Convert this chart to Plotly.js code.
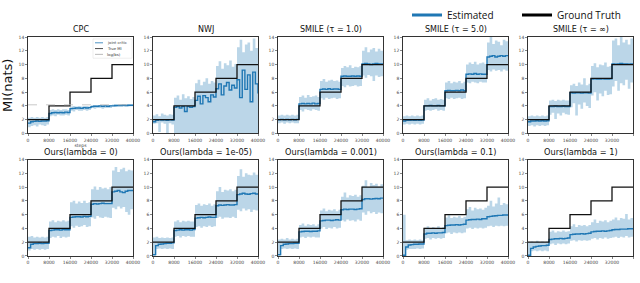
<!DOCTYPE html>
<html>
<head>
<meta charset="utf-8">
<script src="https://cdn.plot.ly/plotly-3.0.1.min.js"></script>
<style>html,body{margin:0;padding:0;background:#fff;}#chart{width:640px;height:283px;}</style>
</head>
<body>
<div id="chart"></div>
<script>
// ---------- data ----------
const steps = [0,1000,2000,3000,4000,5000,6000,7000,8000,9000,10000,11000,12000,13000,14000,15000,16000,17000,18000,19000,20000,21000,22000,23000,24000,25000,26000,27000,28000,29000,30000,31000,32000,33000,34000,35000,36000,37000,38000,39000,40000];
const gtSteps = [0,8000,16000,24000,32000,40000];
const gtMI = [2,4,6,8,10,10];
const logBS = 4.16;
const xTicks = [0,8000,16000,24000,32000,40000];
const yTicks = [0,2,4,6,8,10,12,14];
const titles = ["CPC","NWJ","SMILE (τ = 1.0)","SMILE (τ = 5.0)","SMILE (τ = ∞)",
  "Ours(lambda = 0)","Ours(lambda = 1e-05)","Ours(lambda = 0.001)","Ours(lambda = 0.1)","Ours(lambda = 1)"];

const cpcEst = [1.5,1.7,1.75,1.8,1.75,1.8,1.8,1.85, 2.9,3.0,3.05,3.0,3.05,3.0,3.1,3.05, 3.6,3.65,3.7,3.7,3.65,3.75,3.7,3.75, 3.9,3.95,3.95,4.0,3.95,4.0,3.95,4.0, 4.0,4.05,4.05,4.05,4.1,4.05,4.1,4.1,4.1];
const cpcLo  = [0.9,1.1,1.2,1.0,1.3,1.2,1.1,1.3, 2.5,2.6,2.5,2.7,2.6,2.6,2.7,2.6, 3.3,3.2,3.4,3.3,3.3,3.4,3.3,3.4, 3.7,3.6,3.7,3.7,3.6,3.7,3.7,3.7, 3.9,3.85,3.9,3.9,3.9,3.9,3.9,3.95,3.95];
const cpcHi  = [2.3,2.4,2.3,2.4,2.3,2.4,2.3,2.4, 3.4,3.5,3.4,3.5,3.4,3.5,3.5,3.4, 3.9,4.0,3.9,4.0,3.9,4.0,4.0,3.9, 4.1,4.15,4.1,4.15,4.1,4.15,4.1,4.15, 4.2,4.2,4.2,4.25,4.2,4.2,4.25,4.2,4.2];

const nwjEst = [1.7,1.9,2.0,1.95,2.0,1.9,2.0,1.95, 3.8,3.9,3.7,3.9,3.2,3.9,3.8,3.9, 4.8,5.4,4.3,5.5,5.2,4.6,5.6,5.3, 6.5,7.2,5.6,6.9,7.4,6.3,7.0,6.6, 7.8,5.2,9.2,6.4,8.5,4.6,8.9,7.2,5.8];
const nwjLo  = [1.4,1.5,0.2,1.6,1.4,0.0,1.5,1.3, 0,0,0,0,0,0,0,0, 0,0,0,0,0,0,0,0, 0,0,0,0,0,0,0,0, 0,0,0,0,0,0,0,0,0];
const nwjHi  = [2.6,2.8,2.5,2.9,2.7,2.6,2.8,2.7, 5.2,5.5,4.9,5.7,5.1,5.4,5.0,5.3, 7.3,7.8,7.0,7.5,8.0,7.2,7.6,7.4, 9.8,10.5,9.4,10.2,9.9,10.6,9.7,10.1, 12.5,13.6,11.8,12.9,13.2,12.0,13.8,12.4,12.4];

const smile1Est = [2.0,2.05,2.0,2.05,2.0,2.05,2.0,2.05, 4.3,4.35,4.3,4.35,4.3,4.4,4.3,4.35, 6.4,6.45,6.4,6.5,6.4,6.45,6.45,6.4, 8.3,8.35,8.3,8.3,8.35,8.3,8.35,8.3, 10.1,10.15,10.1,10.0,10.1,10.15,10.1,10.1,10.1];
const smile1Lo  = [1.5,1.6,1.4,1.6,1.5,1.6,1.5,1.5, 3.4,3.2,3.5,3.4,3.3,3.5,3.4,3.3, 5.1,4.9,5.2,5.0,5.1,5.2,5.0,5.1, 6.9,6.7,7.0,6.8,6.9,7.0,6.8,6.9, 8.4,8.1,8.5,8.3,7.6,8.4,8.2,8.3,8.3];
const smile1Hi  = [2.6,2.7,2.6,2.7,2.6,2.7,2.6,2.7, 5.3,5.5,5.2,5.6,5.3,5.4,5.5,5.3, 7.6,7.9,7.5,7.7,7.8,7.6,7.7,7.5, 9.5,9.8,9.6,9.9,9.5,9.7,9.6,9.8, 12.0,12.5,11.8,12.2,12.4,11.9,12.3,12.0,12.0];

const smile5Est = [1.8,1.9,1.9,1.95,1.9,1.95,1.9,1.95, 4.0,4.0,4.05,4.0,4.0,4.05,4.0,4.0, 6.2,6.25,6.2,6.2,6.25,6.2,6.3,6.2, 8.6,8.65,8.6,8.7,8.6,8.65,8.6,8.6, 11.1,11.2,11.3,11.1,11.2,11.3,11.2,11.3,11.3];
const smile5Lo  = [1.3,1.4,1.3,1.4,1.3,1.4,1.3,1.4, 3.3,3.4,3.3,3.4,3.5,3.3,3.4,3.3, 5.1,5.0,5.2,5.0,5.1,5.2,5.0,5.1, 7.4,7.3,7.5,7.4,7.3,7.5,7.4,7.4, 9.2,9.0,9.3,9.1,9.2,9.0,9.3,9.1,9.1];
const smile5Hi  = [2.5,2.6,2.5,2.6,2.5,2.6,2.5,2.6, 4.9,5.1,4.8,5.0,5.1,4.9,5.0,4.9, 7.4,7.6,7.3,7.5,7.4,7.6,7.3,7.5, 10.0,10.3,10.1,10.4,10.0,10.2,10.3,10.1, 13.2,14.0,13.0,13.5,13.3,12.8,13.6,13.4,13.4];

const smileInfEst = [1.7,1.8,1.8,1.85,1.8,1.85,1.8,1.85, 3.9,3.9,3.95,3.9,3.9,3.95,3.9,3.9, 5.9,5.85,5.9,5.9,5.85,5.9,5.9,5.85, 7.9,7.95,7.9,7.9,7.95,7.9,7.9,7.95, 10.1,10.05,10.1,10.15,10.1,10.1,10.05,10.1,10.1];
const smileInfLo  = [1.1,1.2,1.0,1.2,1.1,1.2,1.1,1.2, 2.7,3.0,2.1,2.9,2.6,3.0,2.8,2.7, 3.8,4.4,2.6,4.2,3.6,4.5,4.0,3.7, 5.5,6.0,4.8,5.8,5.4,6.2,5.6,5.7, 6.8,7.6,6.2,7.3,7.0,7.8,6.5,7.4,7.4];
const smileInfHi  = [2.5,2.6,2.5,2.6,2.5,2.6,2.5,2.6, 4.8,4.9,4.7,4.9,4.8,4.9,4.8,4.8, 7.0,7.2,6.9,7.4,7.1,8.0,7.0,7.2, 9.8,10.2,9.6,10.0,9.9,10.3,9.7,9.8, 13.5,13.8,12.8,14.0,13.2,13.6,12.9,13.8,13.8];

const ours0Est = [1.2,1.7,1.8,1.8,1.85,1.8,1.85,1.85, 3.7,3.75,3.8,3.8,3.75,3.85,3.8,3.8, 5.6,5.65,5.7,5.7,5.65,5.75,5.7,5.75, 7.5,7.6,7.55,7.6,7.65,7.6,7.6,7.6, 9.3,9.4,9.5,9.3,9.2,9.4,9.5,9.5,9.5];
const ours0Lo  = [0.8,1.0,0.9,1.0,0.9,1.0,0.9,1.0, 2.6,2.8,2.7,2.9,2.6,2.8,2.7,2.8, 4.3,4.1,4.4,4.2,4.3,4.5,4.2,4.3, 5.6,5.4,5.8,5.6,5.5,5.7,5.6,5.5, 7.0,6.8,7.2,6.9,7.1,6.4,6.0,6.8,6.8];
const ours0Hi  = [2.8,2.9,2.7,2.8,2.7,2.8,2.7,2.8, 5.0,5.2,4.9,5.1,5.0,5.2,5.0,5.1, 7.8,8.0,7.6,7.9,7.7,8.0,7.7,7.8, 9.7,10.1,9.6,10.0,9.8,9.9,9.7,10.0, 12.4,12.9,12.2,12.6,12.8,12.3,12.5,12.4,12.4];

const ours1e5Est = [0.2,1.5,1.7,1.75,1.8,1.85,1.85,1.9, 3.7,3.75,3.8,3.75,3.8,3.8,3.75,3.85, 5.5,5.55,5.6,5.55,5.6,5.65,5.6,5.6, 7.3,7.4,7.35,7.4,7.45,7.4,7.4,7.45, 8.9,9.0,9.1,9.0,8.95,9.05,9.1,9.0,9.0];
const ours1e5Lo  = [0.0,1.0,1.1,1.0,1.1,1.0,1.1,1.0, 2.8,2.9,2.7,2.9,2.8,2.9,2.8,2.8, 4.2,4.3,4.1,4.3,4.2,4.4,4.2,4.3, 5.5,5.7,5.4,5.6,5.6,5.5,5.7,5.5, 6.7,6.5,6.9,6.6,6.8,6.4,6.7,6.6,6.6];
const ours1e5Hi  = [2.7,2.8,2.6,2.7,2.6,2.7,2.6,2.7, 5.0,5.2,4.9,5.1,5.0,5.1,5.0,5.0, 7.4,7.6,7.3,7.5,7.4,7.6,7.3,7.5, 9.4,10.0,9.3,9.6,9.5,9.7,9.4,9.6, 11.6,12.6,11.5,12.0,11.8,11.7,12.1,11.8,11.8];

const ours1e3Est = [0.2,1.5,1.7,1.75,1.8,1.8,1.85,1.85, 3.5,3.55,3.6,3.6,3.55,3.6,3.6,3.65, 5.1,5.15,5.2,5.2,5.15,5.2,5.25,5.2, 6.7,6.8,6.75,6.8,6.8,6.75,6.8,6.85, 8.2,8.3,8.3,8.25,8.3,8.35,8.3,8.4,8.4];
const ours1e3Lo  = [0.0,1.0,1.1,1.0,1.1,1.0,1.1,1.0, 2.7,2.8,2.6,2.8,2.7,2.8,2.7,2.7, 4.0,4.2,3.9,4.1,4.0,4.2,4.0,4.1, 5.2,5.0,5.3,5.1,5.2,5.0,5.3,5.1, 6.3,6.0,6.5,6.2,6.4,6.1,6.3,6.2,6.2];
const ours1e3Hi  = [2.4,2.5,2.4,2.6,2.4,2.5,2.4,2.5, 4.5,4.7,4.4,4.6,4.5,4.6,4.4,4.6, 6.6,6.9,6.5,6.7,6.6,6.8,6.5,6.7, 8.6,9.2,8.5,8.8,8.7,8.9,8.6,8.8, 10.2,11.0,10.0,10.6,10.3,10.5,10.1,10.4,10.4];

const ours01Est = [0.1,1.3,1.6,1.65,1.7,1.7,1.75,1.75, 3.2,3.3,3.3,3.35,3.3,3.35,3.35,3.4, 4.4,4.45,4.5,4.5,4.55,4.5,4.55,4.6, 5.2,5.25,5.3,5.3,5.35,5.3,5.4,5.4, 5.7,5.75,5.8,5.85,5.9,5.9,5.95,5.95,5.95];
const ours01Lo  = [0.0,0.9,1.0,1.0,1.0,1.1,1.0,1.1, 2.5,2.6,2.4,2.6,2.5,2.6,2.5,2.6, 3.3,3.4,3.2,3.4,3.3,3.4,3.3,3.4, 4.0,4.1,3.9,4.1,4.0,4.1,4.0,4.1, 4.3,4.4,4.2,4.4,4.3,4.4,4.3,4.4,4.4];
const ours01Hi  = [6.0,2.3,2.4,2.3,2.4,2.3,2.4,2.3, 4.1,4.3,4.0,4.2,4.1,4.3,4.0,4.2, 5.6,5.9,5.5,5.7,5.6,5.8,5.5,5.7, 6.8,7.1,6.6,7.0,6.8,6.9,6.7,7.0, 7.3,8.0,7.2,7.6,8.5,7.4,7.7,7.5,7.5];

const ours1Est = [0.1,1.1,1.3,1.4,1.45,1.5,1.5,1.55, 2.4,2.45,2.5,2.5,2.55,2.5,2.55,2.6, 3.1,3.15,3.2,3.2,3.25,3.2,3.25,3.3, 3.5,3.55,3.6,3.6,3.65,3.6,3.65,3.7, 3.8,3.85,3.85,3.9,3.9,3.9,3.95,3.95,3.95];
const ours1Lo  = [0.0,0.7,0.8,0.7,0.8,0.7,0.8,0.7, 1.7,1.8,1.6,1.8,1.7,1.8,1.7,1.8, 2.2,2.3,2.1,2.3,2.2,2.3,2.2,2.3, 2.5,2.6,2.4,2.6,2.5,2.7,2.5,2.6, 2.7,2.8,2.6,2.8,2.7,2.9,2.7,2.8,2.8];
const ours1Hi  = [2.0,2.1,2.0,2.2,2.0,2.1,2.0,2.1, 3.5,3.7,3.4,3.6,3.5,3.7,3.5,3.6, 4.3,4.6,4.2,4.5,4.4,4.5,4.3,4.5, 4.9,5.3,4.8,5.1,5.0,5.2,4.9,5.1, 5.3,5.6,5.2,5.5,5.4,6.1,5.3,5.5,5.5];

// ---------- build ----------
const panels = [
  [cpcEst,cpcLo,cpcHi],[nwjEst,nwjLo,nwjHi],[smile1Est,smile1Lo,smile1Hi],[smile5Est,smile5Lo,smile5Hi],[smileInfEst,smileInfLo,smileInfHi],
  [ours0Est,ours0Lo,ours0Hi],[ours1e5Est,ours1e5Lo,ours1e5Hi],[ours1e3Est,ours1e3Lo,ours1e3Hi],[ours01Est,ours01Lo,ours01Hi],[ours1Est,ours1Lo,ours1Hi]
];
const W = 640, H = 283;
const colLeft = [28,153,278,403,528], plotW = 105;
const rowTop = [28,155], plotH = 100;
const BLUE = '#1f77b4', BAND = 'rgba(31,119,180,0.30)';
const FONT = 'DejaVu Sans, sans-serif';

const traces = [];
const layout = {
  width: W, height: H, margin: {l:0,r:0,t:0,b:0},
  paper_bgcolor: '#fff', plot_bgcolor: '#fff',
  font: {family: FONT, color: '#222'},
  showlegend: true,
  legend: {orientation: 'h', x: 407/W, xanchor: 'left', y: 1.035, yanchor: 'top', traceorder: 'normal',
           font: {family: 'Open Sans, sans-serif', size: 10, color: '#111'},
           entrywidth: 65, entrywidthmode: 'pixels', bgcolor: 'rgba(0,0,0,0)', tracegroupgap: 0},
  annotations: [], shapes: []
};

panels.forEach((p, i) => {
  const n = i + 1;
  const xa = n === 1 ? 'x' : 'x' + n;
  const ya = n === 1 ? 'y' : 'y' + n;
  const r = i < 5 ? 0 : 1, c = i % 5;
  const x0 = colLeft[c], y0 = rowTop[r];
  const [est, lo, hi] = p;
  traces.push({x: steps, y: lo, xaxis: xa, yaxis: ya, mode: 'lines', line: {width: 0, shape: 'hv'}, showlegend: false, hoverinfo: 'skip'});
  traces.push({x: steps, y: hi, xaxis: xa, yaxis: ya, mode: 'lines', line: {width: 0, shape: 'hv'}, fill: 'tonexty', fillcolor: BAND, showlegend: false, hoverinfo: 'skip'});
  traces.push({x: steps, y: est, xaxis: xa, yaxis: ya, mode: 'lines', line: {color: BLUE, width: 1.4, shape: 'hv'}, showlegend: false, name: 'Estimated'});
  traces.push({x: gtSteps, y: gtMI, xaxis: xa, yaxis: ya, mode: 'lines', line: {color: '#111', width: 1.3, shape: 'hv'}, showlegend: false, name: 'Ground Truth'});
  if (n === 1) {
    traces.push({x: [xTicks[0], xTicks[xTicks.length-1]], y: [logBS, logBS], xaxis: xa, yaxis: ya, mode: 'lines',
                 line: {color: '#bbb', width: 0.8, dash: 'dash'}, showlegend: false, name: 'log(bs)'});
  }
  const axCommon = {showline: true, mirror: true, linecolor: '#000', linewidth: 0.8, ticks: 'outside', ticklen: 2, tickwidth: 0.6,
                    tickcolor: '#333', showgrid: false, zeroline: false, tickfont: {size: 4.5, color: '#444', family: FONT}, fixedrange: true};
  layout['xaxis' + (n === 1 ? '' : n)] = Object.assign({}, axCommon, {
    domain: [x0 / W, (x0 + plotW) / W], anchor: ya, range: [0, 40000],
    tickmode: 'array', tickvals: xTicks, ticktext: xTicks.map(String)
  });
  layout['yaxis' + (n === 1 ? '' : n)] = Object.assign({}, axCommon, {
    domain: [(H - y0 - plotH) / H, (H - y0) / H], anchor: xa, range: [0, 14],
    tickmode: 'array', tickvals: yTicks, ticktext: yTicks.map(String)
  });
  layout.annotations.push({text: titles[i], xref: 'paper', yref: 'paper', x: (x0 + plotW / 2) / W, y: (H - y0 + 1) / H,
    xanchor: 'center', yanchor: 'bottom', showarrow: false, font: {size: r === 0 ? 8 : 8.2, family: FONT, color: '#111'}});
});

layout.xaxis.title = {text: 'steps', font: {size: 4.5, color: '#444'}, standoff: 1};
layout.yaxis.title = {text: 'MI(nats)', font: {size: 13, color: '#111', family: FONT}, standoff: 6};

// main legend entries
traces.push({x: [null], y: [null], mode: 'lines', name: 'Estimated', line: {color: BLUE, width: 3}, showlegend: true, hoverinfo: 'skip'});
traces.push({x: [null], y: [null], mode: 'lines', name: 'Ground Truth', line: {color: '#000', width: 3}, showlegend: true, hoverinfo: 'skip'});

// CPC mini legend (inside panel)
const lgX = 93, lgY = 30;
layout.shapes.push({type: 'rect', xref: 'paper', yref: 'paper', x0: lgX / W, x1: 132 / W, y0: (H - lgY - 20) / H, y1: (H - lgY) / H,
  line: {color: '#ddd', width: 0.5}, fillcolor: 'rgba(255,255,255,0.9)'});
const miniItems = [['joint critic', BLUE, 'solid'], ['True MI', '#222', 'solid'], ['log(bs)', '#aaa', 'dash']];
miniItems.forEach((it, k) => {
  const yy = H - (lgY + 4 + k * 6);
  layout.shapes.push({type: 'line', xref: 'paper', yref: 'paper', x0: (lgX + 2) / W, x1: (lgX + 10) / W, y0: yy / H, y1: yy / H,
    line: {color: it[1], width: 0.8, dash: it[2]}});
  layout.annotations.push({text: it[0], xref: 'paper', yref: 'paper', x: (lgX + 12) / W, y: yy / H, xanchor: 'left', yanchor: 'middle',
    showarrow: false, font: {size: 3.8, color: '#333', family: FONT}});
});

Plotly.newPlot('chart', traces, layout, {staticPlot: true, displayModeBar: false});
</script>
</body>
</html>
